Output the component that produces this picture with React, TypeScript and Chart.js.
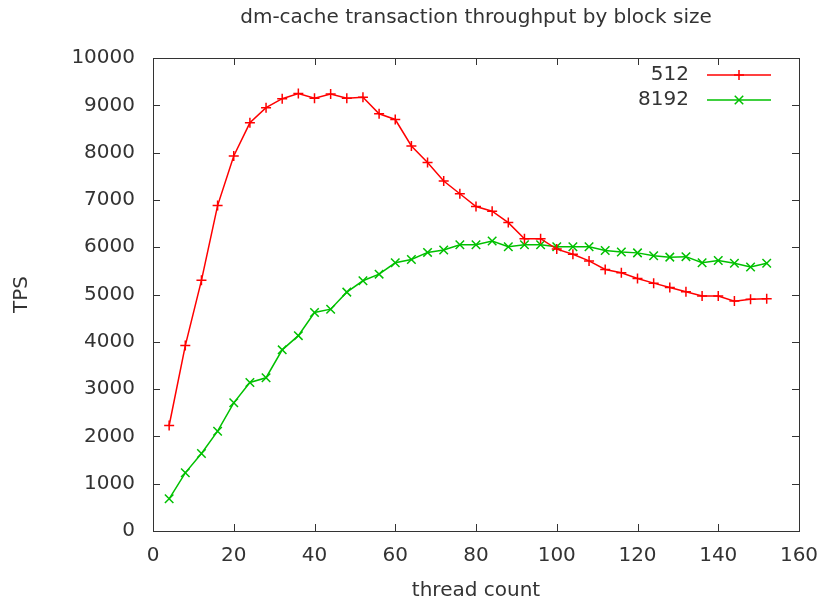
import React, { useEffect, useRef } from 'react';
import { Chart, registerables } from 'chart.js';

Chart.register(...registerables);

// Thread counts sampled in the benchmark
const threads = [
  4, 8, 12, 16, 20, 24, 28, 32, 36, 40, 44, 48, 52, 56, 60, 64, 68, 72, 76,
  80, 84, 88, 92, 96, 100, 104, 108, 112, 116, 120, 124, 128, 132, 136, 140,
  144, 148, 152,
];

// Transactions per second, block size 512
const tps512 = [
  2230, 3920, 5300, 6880, 7930, 8630, 8950, 9140, 9250, 9150, 9240, 9150,
  9170, 8820, 8700, 8140, 7790, 7400, 7130, 6860, 6760, 6520, 6180, 6180,
  5960, 5850, 5710, 5530, 5460, 5340, 5240, 5150, 5060, 4970, 4970, 4860,
  4900, 4910,
];

// Transactions per second, block size 8192
const tps8192 = [
  680, 1230, 1640, 2110, 2710, 3140, 3240, 3830, 4130, 4620, 4690, 5050,
  5290, 5430, 5670, 5740, 5890, 5940, 6050, 6050, 6130, 6010, 6050, 6050,
  6010, 6010, 6010, 5930, 5900, 5880, 5820, 5790, 5800, 5670, 5720, 5660,
  5580, 5660,
];

const seriesLabels = ['512', '8192'];
const seriesColors = ['#ff0000', '#00c000'];
const seriesMarkers = ['cross', 'crossRot'];

const xTicks = [0, 20, 40, 60, 80, 100, 120, 140, 160];
const yTicks = [0, 1000, 2000, 3000, 4000, 5000, 6000, 7000, 8000, 9000, 10000];

const titleText = 'dm-cache transaction throughput by block size';
const xTitle = 'thread count';
const yTitle = 'TPS';

const FONT = "'DejaVu Sans', sans-serif";
const INK = '#333333';

function drawMarker(ctx: CanvasRenderingContext2D, style: string, x: number, y: number, r: number) {
  ctx.beginPath();
  if (style === 'cross') {
    ctx.moveTo(x - r, y);
    ctx.lineTo(x + r, y);
    ctx.moveTo(x, y - r);
    ctx.lineTo(x, y + r);
  } else {
    const d = r * Math.SQRT1_2;
    ctx.moveTo(x - d, y - d);
    ctx.lineTo(x + d, y + d);
    ctx.moveTo(x - d, y + d);
    ctx.lineTo(x + d, y - d);
  }
  ctx.stroke();
}

// Gnuplot-style frame: box border, inward mirrored ticks, texts and key
const framePlugin = {
  id: 'gnuplotFrame',
  afterDraw(chart: any) {
    const { ctx, chartArea } = chart;
    const { left, right, top, bottom } = chartArea;
    const xs = chart.scales.x;
    const ys = chart.scales.y;
    const tickLen = 7;
    ctx.save();
    ctx.strokeStyle = INK;
    ctx.lineWidth = 1;
    ctx.beginPath();
    for (const v of yTicks) {
      const py = Math.round(ys.getPixelForValue(v)) + 0.5;
      ctx.moveTo(left, py);
      ctx.lineTo(left + tickLen, py);
      ctx.moveTo(right, py);
      ctx.lineTo(right - tickLen, py);
    }
    for (const v of xTicks) {
      const px = Math.round(xs.getPixelForValue(v)) + 0.5;
      ctx.moveTo(px, bottom);
      ctx.lineTo(px, bottom - tickLen);
      ctx.moveTo(px, top);
      ctx.lineTo(px, top + tickLen);
    }
    ctx.stroke();
    ctx.strokeRect(Math.round(left) + 0.5, Math.round(top) + 0.5, Math.round(right - left), Math.round(bottom - top));

    ctx.fillStyle = INK;
    ctx.font = `20px ${FONT}`;
    ctx.textAlign = 'center';
    ctx.textBaseline = 'middle';
    ctx.fillText(titleText, (left + right) / 2, 18);
    ctx.fillText(xTitle, (left + right) / 2, 591);
    ctx.save();
    ctx.translate(22, (top + bottom) / 2);
    ctx.rotate(-Math.PI / 2);
    ctx.fillText(yTitle, 0, 0);
    ctx.restore();

    // key, top right inside the plot
    chart.data.datasets.forEach((ds: any, i: number) => {
      const y = top + 17 + i * 25;
      ctx.fillStyle = INK;
      ctx.textAlign = 'right';
      ctx.fillText(ds.label, right - 110, y);
      ctx.strokeStyle = ds.borderColor;
      ctx.lineWidth = 1.5;
      ctx.beginPath();
      ctx.moveTo(right - 92, y);
      ctx.lineTo(right - 28, y);
      ctx.stroke();
      drawMarker(ctx, ds.pointStyle, right - 60, y, ds.pointRadius);
    });
    ctx.restore();
  },
};

export default function App() {
  const canvasRef = useRef<HTMLCanvasElement | null>(null);

  useEffect(() => {
    const canvas = canvasRef.current;
    if (!canvas) return;
    const seriesValues = [tps512, tps8192];
    const chart = new Chart(canvas, {
      type: 'line',
      data: {
        datasets: seriesValues.map((vals, i) => ({
          label: seriesLabels[i],
          data: threads.map((t, j) => ({ x: t, y: vals[j] })),
          borderColor: seriesColors[i],
          backgroundColor: seriesColors[i],
          borderWidth: 1.5,
          pointStyle: seriesMarkers[i] as any,
          pointRadius: i === 0 ? 5 : 6,
          pointBorderWidth: 1.5,
          pointBorderColor: seriesColors[i],
          fill: false,
          tension: 0,
        })),
      },
      options: {
        responsive: false,
        animation: false,
        layout: { padding: { top: 58, right: 21, left: 0, bottom: 0 } },
        plugins: {
          legend: { display: false },
          title: { display: false },
          tooltip: { enabled: false },
        },
        scales: {
          x: {
            type: 'linear',
            min: 0,
            max: 160,
            grid: { display: false, drawTicks: false },
            border: { display: false },
            ticks: {
              stepSize: 20,
              padding: 13,
              color: INK,
              font: { family: FONT, size: 20 },
              maxRotation: 0,
              callback: (v: any) => String(v),
            },
            afterFit: (scale: any) => {
              scale.height = 72;
              scale.paddingLeft = 0;
              scale.paddingRight = 0;
            },
          },
          y: {
            type: 'linear',
            min: 0,
            max: 10000,
            grid: { display: false, drawTicks: false },
            border: { display: false },
            ticks: {
              stepSize: 1000,
              padding: 18,
              color: INK,
              font: { family: FONT, size: 20 },
              callback: (v: any) => String(v),
            },
            afterFit: (scale: any) => {
              scale.width = 153;
              scale.paddingTop = 0;
              scale.paddingBottom = 0;
            },
          },
        },
      },
      plugins: [framePlugin],
    });
    return () => chart.destroy();
  }, []);

  return (
    <div style={{ position: 'fixed', left: 0, top: 0, background: '#ffffff' }}>
      <canvas ref={canvasRef} width={820} height={603} style={{ display: 'block' }} />
    </div>
  );
}
